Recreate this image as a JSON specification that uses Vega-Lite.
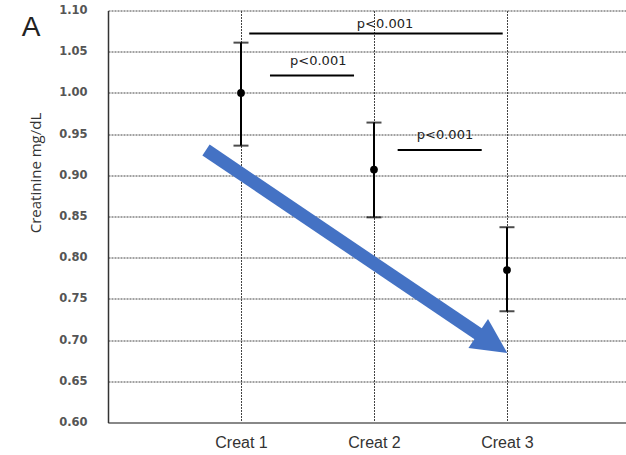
{
  "$schema": "https://vega.github.io/schema/vega-lite/v6.json",
  "width": 518,
  "height": 412,
  "autosize": {"type": "none"},
  "padding": {"left": 108, "top": 10.5, "right": 0, "bottom": 32.5},
  "background": "white",
  "config": {"view": {"stroke": null}},
  "datasets": {
    "stats": [
      {"cat": 1, "mean": 1.0, "lo": 0.936, "hi": 1.061},
      {"cat": 2, "mean": 0.907, "lo": 0.849, "hi": 0.964},
      {"cat": 3, "mean": 0.785, "lo": 0.735, "hi": 0.837}
    ],
    "sig": [
      {"x1": 1.062, "x2": 2.968, "y": 1.072, "tx": 2.083, "ty": 1.0836, "label": "p<0.001"},
      {"x1": 1.218, "x2": 1.85, "y": 1.021, "tx": 1.581, "ty": 1.0387, "label": "p<0.001"},
      {"x1": 2.178, "x2": 2.81, "y": 0.9307, "tx": 2.534, "ty": 0.949, "label": "p<0.001"}
    ],
    "arrow": [
      {"x": 0.737, "y": 0.9307, "o": 0},
      {"x": 2.797, "y": 0.7062, "o": 1}
    ],
    "head": [
      {"x": 2.893, "y": 0.6961}
    ],
    "panel": [
      {"x": -0.579, "y": 1.0788, "label": "A"}
    ]
  },
  "layer": [
    {
      "data": {"name": "stats"},
      "mark": {"type": "rule", "color": "#000", "strokeWidth": 2},
      "encoding": {
        "x": {
          "field": "cat", "type": "quantitative",
          "scale": {"domain": [0, 3.895], "nice": false, "zero": false},
          "axis": {
            "title": null, "values": [1, 2, 3],
            "labelExpr": "'Creat  ' + datum.value",
            "grid": true, "gridColor": "#444", "gridDash": [2, 1], "gridWidth": 1,
            "ticks": false, "domainColor": "#888", "domainWidth": 2,
            "labelFont": "Liberation Sans", "labelFontSize": 16, "labelColor": "#333",
            "labelPadding": 12, "labelBaseline": "top"
          }
        },
        "y": {
          "field": "lo", "type": "quantitative",
          "scale": {"domain": [0.6, 1.1], "nice": false, "zero": false},
          "axis": {
            "title": "Creatinine mg/dL",
            "values": [0.6, 0.65, 0.7, 0.75, 0.8, 0.85, 0.9, 0.95, 1.0, 1.05, 1.1],
            "format": ".2f",
            "grid": true, "gridColor": "#444", "gridDash": [2, 1], "gridWidth": 1,
            "ticks": false, "domainColor": "#333", "domainWidth": 1.5,
            "labelFont": "DejaVu Sans", "labelFontSize": 11.5, "labelFontWeight": "bold", "labelColor": "#555",
            "labelPadding": 21,
            "titleFont": "Open Sans", "titleFontSize": 15, "titleFontWeight": "normal", "titleColor": "#333",
            "titleAngle": -90, "titleAlign": "center", "titleBaseline": "middle",
            "titleX": -73, "titleY": 162
          }
        },
        "y2": {"field": "hi"}
      }
    },
    {
      "mark": {"type": "rule", "color": "#333", "strokeWidth": 1.5},
      "encoding": {"y": {"datum": 1.1}}
    },
    {
      "data": {"name": "stats"},
      "mark": {"type": "tick", "orient": "horizontal", "color": "#000", "size": 15, "thickness": 2},
      "encoding": {
        "x": {"field": "cat", "type": "quantitative"},
        "y": {"field": "hi", "type": "quantitative"}
      }
    },
    {
      "data": {"name": "stats"},
      "mark": {"type": "tick", "orient": "horizontal", "color": "#000", "size": 15, "thickness": 2},
      "encoding": {
        "x": {"field": "cat", "type": "quantitative"},
        "y": {"field": "lo", "type": "quantitative"}
      }
    },
    {
      "data": {"name": "stats"},
      "mark": {"type": "point", "filled": true, "color": "#000", "size": 60, "opacity": 1, "shape": "circle"},
      "encoding": {
        "x": {"field": "cat", "type": "quantitative"},
        "y": {"field": "mean", "type": "quantitative"}
      }
    },
    {
      "data": {"name": "sig"},
      "mark": {"type": "rule", "color": "#000", "strokeWidth": 2},
      "encoding": {
        "x": {"field": "x1", "type": "quantitative"},
        "x2": {"field": "x2"},
        "y": {"field": "y", "type": "quantitative"}
      }
    },
    {
      "data": {"name": "sig"},
      "mark": {"type": "text", "font": "DejaVu Sans", "fontSize": 13, "fontWeight": "normal", "color": "#222", "baseline": "middle", "align": "center"},
      "encoding": {
        "x": {"field": "tx", "type": "quantitative"},
        "y": {"field": "ty", "type": "quantitative"},
        "text": {"field": "label"}
      }
    },
    {
      "data": {"name": "arrow"},
      "mark": {"type": "line", "color": "#4472C4", "strokeWidth": 13, "strokeCap": "butt"},
      "encoding": {
        "x": {"field": "x", "type": "quantitative"},
        "y": {"field": "y", "type": "quantitative"},
        "order": {"field": "o"}
      }
    },
    {
      "data": {"name": "head"},
      "mark": {"type": "point", "filled": true, "color": "#4472C4", "opacity": 1, "size": 1225, "angle": 34, "shape": "M-1,-1L1,0L-1,1Z", "strokeWidth": 0},
      "encoding": {
        "x": {"field": "x", "type": "quantitative"},
        "y": {"field": "y", "type": "quantitative"}
      }
    },
    {
      "data": {"name": "panel"},
      "mark": {"type": "text", "font": "Liberation Sans", "fontSize": 28, "color": "#222", "baseline": "middle", "align": "center", "clip": false},
      "encoding": {
        "x": {"field": "x", "type": "quantitative"},
        "y": {"field": "y", "type": "quantitative"},
        "text": {"field": "label"}
      }
    }
  ]
}
